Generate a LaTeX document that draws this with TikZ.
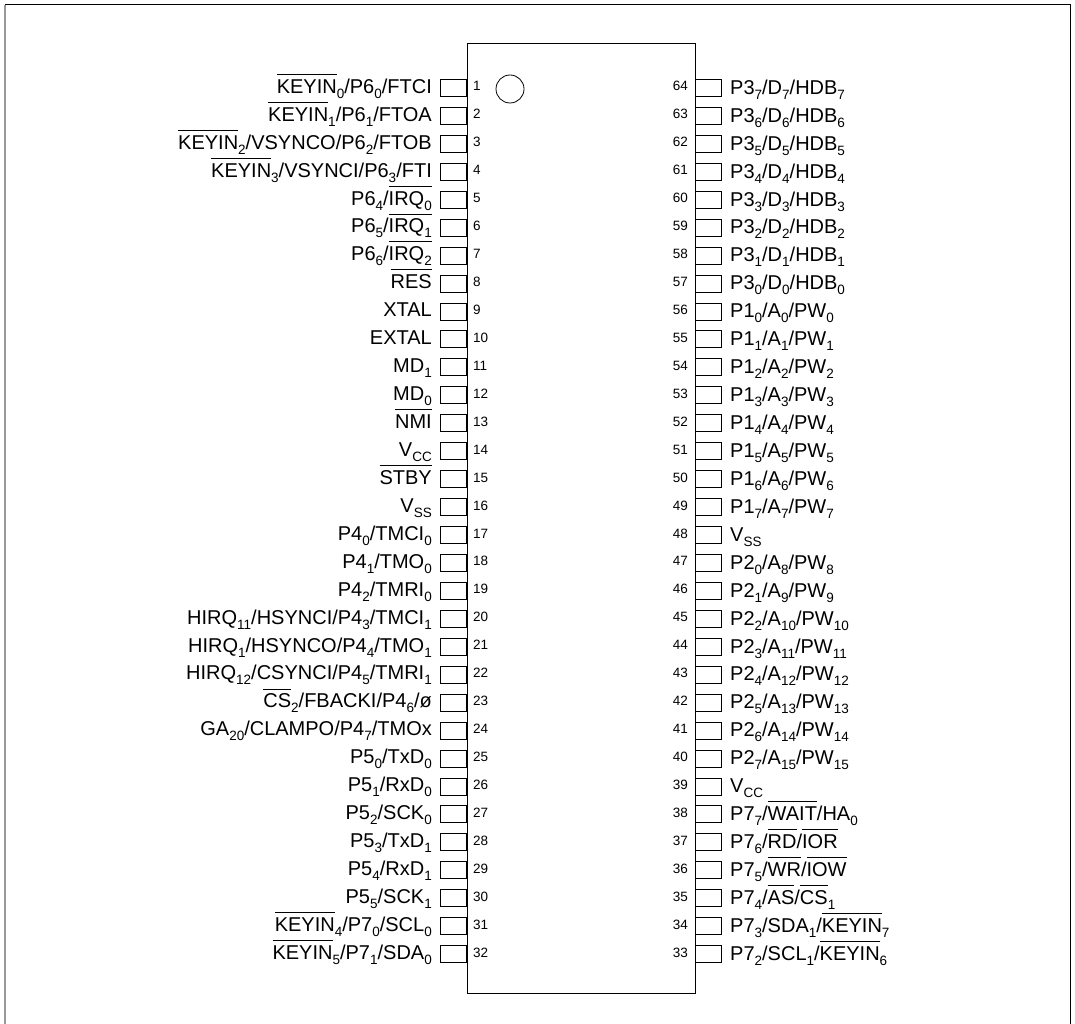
\documentclass[tikz,border=0pt]{standalone}
\usepackage{fontspec}
\setmainfont{Liberation Sans}
\usepackage{tikz}
\usetikzlibrary{positioning}
\newlength{\ovlwd}
\newcommand{\sbs}[1]{\raisebox{-5pt}{\fontsize{13.5}{14}\selectfont #1}}
\newcommand{\ovl}[1]{\settowidth{\ovlwd}{#1}\rlap{\rule[18.6pt]{\ovlwd}{0.8pt}}#1}
\tikzset{
	pinbox/.style={draw, line width=1pt, minimum width=26pt, minimum height=17pt, inner sep=0pt},
	pinlabel/.style={inner sep=0pt, text height=15pt, text depth=4.5pt, font=\fontsize{20}{22}\selectfont},
	pinnum/.style={inner sep=0pt, text height=9pt, text depth=3pt, font=\fontsize{13.5}{15}\selectfont},
}
\begin{document}
\begin{tikzpicture}[x=1pt,y=-1pt]
	\useasboundingbox (0,0) rectangle (1075,1024);
	\coordinate (fa) at (5,1024);
	\coordinate (fb) at (5,5);
	\coordinate (fc) at (1070,5);
	\coordinate (fd) at (1070,1024);
	\draw [line width=2pt, color=gray!80] (fa) -- (fb);
	\draw [line width=1pt] (fb) -- (fc) -- (fd);
	\node [draw, line width=1pt, minimum width=228pt, minimum height=949pt, inner sep=0pt] (chip) at (581,518.5) {};
	\node [draw, circle, line width=0.8pt, minimum size=28pt, inner sep=0pt] (mark) at (510,89) {};
	% left side
	\foreach \n/\t [evaluate=\n as \y using 88+(\n-1)*27.94] in {
		1/{\ovl{KEYIN}\sbs{0}/P6\sbs{0}/FTCI},
		2/{\ovl{KEYIN}\sbs{1}/P6\sbs{1}/FTOA},
		3/{\ovl{KEYIN}\sbs{2}/VSYNCO/P6\sbs{2}/FTOB},
		4/{\ovl{KEYIN}\sbs{3}/VSYNCI/P6\sbs{3}/FTI},
		5/{P6\sbs{4}/\ovl{IRQ\sbs{0}}},
		6/{P6\sbs{5}/\ovl{IRQ\sbs{1}}},
		7/{P6\sbs{6}/\ovl{IRQ\sbs{2}}},
		8/{\ovl{RES}},
		9/{XTAL},
		10/{EXTAL},
		11/{MD\sbs{1}},
		12/{MD\sbs{0}},
		13/{\ovl{NMI}},
		14/{V\sbs{CC}},
		15/{\ovl{STBY}},
		16/{V\sbs{SS}},
		17/{P4\sbs{0}/TMCI\sbs{0}},
		18/{P4\sbs{1}/TMO\sbs{0}},
		19/{P4\sbs{2}/TMRI\sbs{0}},
		20/{HIRQ\sbs{11}/HSYNCI/P4\sbs{3}/TMCI\sbs{1}},
		21/{HIRQ\sbs{1}/HSYNCO/P4\sbs{4}/TMO\sbs{1}},
		22/{HIRQ\sbs{12}/CSYNCI/P4\sbs{5}/TMRI\sbs{1}},
		23/{\ovl{CS}\sbs{2}/FBACKI/P4\sbs{6}/ø},
		24/{GA\sbs{20}/CLAMPO/P4\sbs{7}/TMOx},
		25/{P5\sbs{0}/TxD\sbs{0}},
		26/{P5\sbs{1}/RxD\sbs{0}},
		27/{P5\sbs{2}/SCK\sbs{0}},
		28/{P5\sbs{3}/TxD\sbs{1}},
		29/{P5\sbs{4}/RxD\sbs{1}},
		30/{P5\sbs{5}/SCK\sbs{1}},
		31/{\ovl{KEYIN}\sbs{4}/P7\sbs{0}/SCL\sbs{0}},
		32/{\ovl{KEYIN}\sbs{5}/P7\sbs{1}/SDA\sbs{0}}}
	{
		\node [pinbox, anchor=east] (pin\n) at (467,\y) {};
		\node [pinlabel, left=8pt of pin\n] (lab\n) {\t};
		\node [pinnum, right=6pt of pin\n] (num\n) {\n};
	}
	% right side
	\foreach \n/\t [evaluate=\n as \y using 88+(64-\n)*27.94] in {
		64/{P3\sbs{7}/D\sbs{7}/HDB\sbs{7}},
		63/{P3\sbs{6}/D\sbs{6}/HDB\sbs{6}},
		62/{P3\sbs{5}/D\sbs{5}/HDB\sbs{5}},
		61/{P3\sbs{4}/D\sbs{4}/HDB\sbs{4}},
		60/{P3\sbs{3}/D\sbs{3}/HDB\sbs{3}},
		59/{P3\sbs{2}/D\sbs{2}/HDB\sbs{2}},
		58/{P3\sbs{1}/D\sbs{1}/HDB\sbs{1}},
		57/{P3\sbs{0}/D\sbs{0}/HDB\sbs{0}},
		56/{P1\sbs{0}/A\sbs{0}/PW\sbs{0}},
		55/{P1\sbs{1}/A\sbs{1}/PW\sbs{1}},
		54/{P1\sbs{2}/A\sbs{2}/PW\sbs{2}},
		53/{P1\sbs{3}/A\sbs{3}/PW\sbs{3}},
		52/{P1\sbs{4}/A\sbs{4}/PW\sbs{4}},
		51/{P1\sbs{5}/A\sbs{5}/PW\sbs{5}},
		50/{P1\sbs{6}/A\sbs{6}/PW\sbs{6}},
		49/{P1\sbs{7}/A\sbs{7}/PW\sbs{7}},
		48/{V\sbs{SS}},
		47/{P2\sbs{0}/A\sbs{8}/PW\sbs{8}},
		46/{P2\sbs{1}/A\sbs{9}/PW\sbs{9}},
		45/{P2\sbs{2}/A\sbs{10}/PW\sbs{10}},
		44/{P2\sbs{3}/A\sbs{11}/PW\sbs{11}},
		43/{P2\sbs{4}/A\sbs{12}/PW\sbs{12}},
		42/{P2\sbs{5}/A\sbs{13}/PW\sbs{13}},
		41/{P2\sbs{6}/A\sbs{14}/PW\sbs{14}},
		40/{P2\sbs{7}/A\sbs{15}/PW\sbs{15}},
		39/{V\sbs{CC}},
		38/{P7\sbs{7}/\ovl{WAIT}/HA\sbs{0}},
		37/{P7\sbs{6}/\ovl{RD}/\ovl{IOR}},
		36/{P7\sbs{5}/\ovl{WR}/\ovl{IOW}},
		35/{P7\sbs{4}/\ovl{AS}/\ovl{CS}\sbs{1}},
		34/{P7\sbs{3}/SDA\sbs{1}/\ovl{KEYIN}\sbs{7}},
		33/{P7\sbs{2}/SCL\sbs{1}/\ovl{KEYIN}\sbs{6}}}
	{
		\node [pinbox, anchor=west] (pin\n) at (695,\y) {};
		\node [pinlabel, right=8pt of pin\n, yshift=-1pt] (lab\n) {\t};
		\node [pinnum, left=7pt of pin\n] (num\n) {\n};
	}
\end{tikzpicture}
\end{document}
